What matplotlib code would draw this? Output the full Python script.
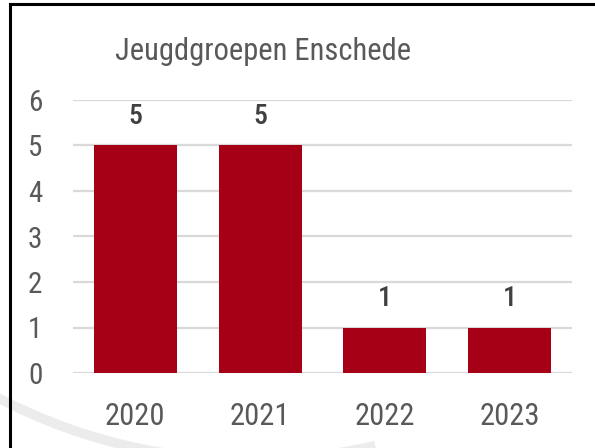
import matplotlib.pyplot as plt
from matplotlib.patches import Arc
from matplotlib.lines import Line2D

# Data
years = ['2020', '2021', '2022', '2023']
groups = [5, 5, 1, 1]
title = 'Jeugdgroepen Enschede'

plt.rcParams['font.family'] = ['Roboto Condensed', 'Liberation Sans Narrow', 'Roboto', 'DejaVu Sans']

fig = plt.figure(figsize=(5.95, 4.48), dpi=100)
ax = fig.add_axes([73 / 595, 1 - 373 / 448, 499 / 595, 273 / 448])

# decorative grey arc and the frame lines
arc = Arc((251 / 595, 1 + 85 / 448), 2 * 545 / 595, 2 * 545 / 448, theta1=-135, theta2=-80,
          transform=fig.transFigure, color='#ececec', lw=7, zorder=0)
fig.add_artist(arc)
fig.add_artist(Line2D([10 / 595, 10 / 595], [0, 1 - 4 / 448], transform=fig.transFigure, color='black', lw=2.2))
fig.add_artist(Line2D([10 / 595, 1], [1 - 4 / 448, 1 - 4 / 448], transform=fig.transFigure, color='black', lw=2.2))

x = range(len(years))
bars = ax.bar(x, groups, width=0.667, color='#a50016', zorder=3)

for i, v in enumerate(groups):
    ax.annotate(str(v), (i, v), xytext=(0, 21), textcoords='offset points', ha='center', va='center',
                fontsize=20, color='#404040', fontweight='medium')

ax.set_xlim(-0.5, 3.5)
ax.set_ylim(0, 6)
ax.set_yticks(range(0, 7))
ax.set_xticks(list(x))
ax.set_xticklabels(years)
ax.yaxis.grid(True, color='#d9d9d9', lw=1.6, zorder=0)
ax.set_axisbelow(True)
for s in ax.spines.values():
    s.set_visible(False)
ax.tick_params(axis='both', length=0, colors='#595959')
ax.tick_params(axis='y', labelsize=21, pad=22)
ax.tick_params(axis='x', labelsize=22, pad=21)
ax.patch.set_alpha(0)

fig.text(115 / 595, 1 - 51 / 448, title, fontsize=22, color='#595959', ha='left', va='center')

plt.savefig('out.png', dpi=100)
